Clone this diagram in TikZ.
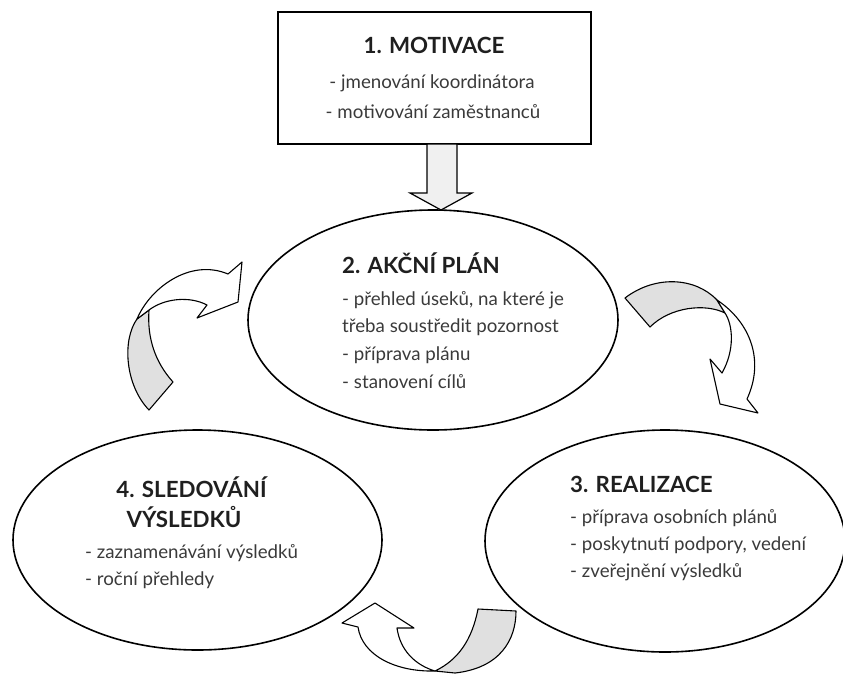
\documentclass[tikz,border=0pt]{standalone}
\usepackage{fontspec}
\setmainfont{Lato}
\usetikzlibrary{shapes.geometric}
\definecolor{ribbongray}{HTML}{E0E0E0}
\definecolor{txtgray}{HTML}{3A3A3A}
\begin{document}
\begin{tikzpicture}[x=1pt,y=-1pt,
  ell/.style={draw=black, line width=1.6pt, ellipse, inner sep=0pt},
  ttl/.style={font=\fontsize{22.3}{26}\selectfont\bfseries, text=black!88, inner sep=0pt},
  itm/.style={font=\fontsize{18.7}{22}\selectfont, text=txtgray, inner sep=0pt, anchor=base west},
  rib/.style={draw=black, line width=1.1pt, line join=round},
  ribback/.style={rib, fill=ribbongray},
  ribfront/.style={rib, fill=white},
  darrow/.style={draw=black, line width=1.2pt, fill=gray!12, line join=miter}]
\useasboundingbox (0,0) rectangle (843,673);

% boxes and ellipses
\node[draw=black, line width=2pt, minimum width=313pt, minimum height=132pt, inner sep=0pt] (box) at (434.5,78) {};
\node[ell, minimum width=370pt, minimum height=220pt] (e2) at (433,320) {};
\node[ell, minimum width=369pt, minimum height=220pt] (e4) at (197.5,540) {};
\node[ell, minimum width=360pt, minimum height=222pt] (e3) at (665,541) {};

% block arrow from box to e2
\coordinate (ds) at (441,144);
\coordinate (dt) at (441,210);
\draw[darrow] ([xshift=-14pt]ds) -- ([xshift=-14pt]ds |- 0,193) -- ([xshift=-31pt]ds |- 0,193)
  -- (dt) -- ([xshift=31pt]ds |- 0,193) -- ([xshift=16pt]ds |- 0,193) -- ([xshift=16pt]ds) -- cycle;

% ribbon arrow A (e4 -> e2)
\draw[ribback] (149,410) -- (173,382) .. controls (155,362) and (147,338) .. (149,310)
  -- (137,319) .. controls (122,340) and (125,385) .. (149,410) -- cycle;
\draw[ribfront] (137,319) .. controls (150,288) and (190,258) .. (228,274) -- (242,262) -- (238,302)
  -- (197,318) -- (207,305) .. controls (190,296) and (165,298) .. (149,310) -- cycle;

% ribbon arrow B (e2 -> e3)
\draw[ribback] (625,298) .. controls (655,275) and (695,277) .. (717,300) -- (725,313)
  .. controls (705,303) and (670,307) .. (650,327) -- cycle;
\draw[ribfront] (717,300) .. controls (750,322) and (765,360) .. (747,399) -- (758,413) -- (720,404)
  -- (710,359) -- (722,373) .. controls (735,350) and (733,325) .. (725,313) -- cycle;

% ribbon arrow C (e3 -> e4)
\draw[ribback] (478,609) -- (516,611) .. controls (516,640) and (500,668) .. (455,673) -- (435,671)
  .. controls (458,660) and (472,640) .. (478,609) -- cycle;
\draw[ribfront] (435,671) .. controls (395,672) and (362,655) .. (358,627) -- (342,623) -- (375,603)
  -- (414,628) -- (397,628) .. controls (400,650) and (415,665) .. (435,671) -- cycle;

% texts
\node[ttl, anchor=base] (t1) at (434,53) {1. MOTIVACE};
\node[itm, anchor=base] (t1a) at (432,88) {- jmenování koordinátora};
\node[itm, anchor=base] (t1b) at (433,118) {- motivování zaměstnanců};

\node[ttl, anchor=base west] (t2) at (342,273) {2. AKČNÍ PLÁN};
\node[itm] (t2a) at (342,305) {- přehled úseků, na které je};
\node[itm] (t2b) at (342,332) {třeba soustředit pozornost};
\node[itm] (t2c) at (342,360) {- příprava plánu};
\node[itm] (t2d) at (342,388) {- stanovení cílů};

\node[ttl, anchor=base] (t4) at (191.5,497) {4. SLEDOVÁNÍ};
\node[ttl, anchor=base] (t4b) at (184,527) {VÝSLEDKŮ};
\node[itm] (t4a) at (85,558) {- zaznamenávání výsledků};
\node[itm] (t4c) at (85,585) {- roční přehledy};

\node[ttl, anchor=base west] (t3) at (570,492) {3. REALIZACE};
\node[itm] (t3a) at (570,523) {- příprava osobních plánů};
\node[itm] (t3b) at (570,550) {- poskytnutí podpory, vedení};
\node[itm] (t3c) at (570,577) {- zveřejnění výsledků};
\end{tikzpicture}
\end{document}
